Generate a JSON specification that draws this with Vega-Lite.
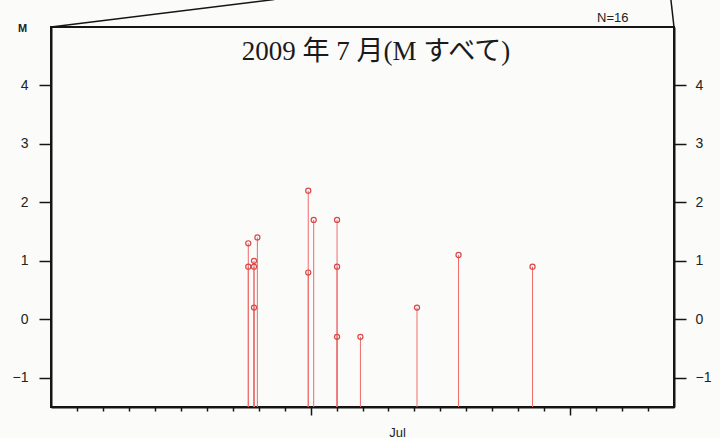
{
  "$schema": "https://vega.github.io/schema/vega-lite/v6.json",
  "width": 623,
  "height": 380,
  "autosize": "none",
  "padding": {"left": 51, "top": 27, "right": 46, "bottom": 31},
  "background": "#fbfbf9",
  "config": {
    "view": {"stroke": "#151515", "strokeWidth": 2},
    "axis": {
      "domainColor": "#151515",
      "domainWidth": 2,
      "tickColor": "#151515",
      "tickWidth": 1.5,
      "grid": false,
      "labelFont": "Liberation Sans",
      "labelColor": "#222222",
      "titleFont": "Liberation Sans",
      "titleColor": "#222222"
    }
  },
  "datasets": {
    "events": [
      {"day": 7.60, "M": 1.3},
      {"day": 7.60, "M": 0.9},
      {"day": 7.82, "M": 1.0},
      {"day": 7.82, "M": 0.9},
      {"day": 7.82, "M": 0.2},
      {"day": 7.95, "M": 1.4},
      {"day": 9.91, "M": 2.2},
      {"day": 9.91, "M": 0.8},
      {"day": 10.12, "M": 1.7},
      {"day": 11.02, "M": 1.7},
      {"day": 11.02, "M": 0.9},
      {"day": 11.02, "M": -0.3},
      {"day": 11.92, "M": -0.3},
      {"day": 14.10, "M": 0.2},
      {"day": 15.70, "M": 1.1},
      {"day": 18.55, "M": 0.9}
    ],
    "frame": [
      {"seg": "left", "day": 0, "M": 5},
      {"seg": "left", "day": 8.6, "M": 5.47},
      {"seg": "right", "day": 24, "M": 5},
      {"seg": "right", "day": 23.88, "M": 5.47}
    ],
    "labels": [
      {"day": 21.64, "M": 5.15, "label": "N=16", "kind": "count"},
      {"day": 12.52, "M": 4.57, "label": "2009 年 7 月(M すべて)", "kind": "title"}
    ]
  },
  "encoding": {
    "x": {
      "field": "day",
      "type": "quantitative",
      "scale": {"domain": [0, 24], "nice": false, "zero": false},
      "axis": {
        "values": [1,2,3,4,5,6,7,8,9,10,11,12,13,14,15,16,17,18,19,20,21,22,23],
        "labels": false,
        "tickSize": {"condition": {"test": "datum.value === 10 || datum.value === 20", "value": 8}, "value": 4},
        "title": "Jul",
        "titleFontSize": 13,
        "titleFontWeight": "normal",
        "titleBaseline": "middle",
        "titleX": 346,
        "titleY": 25
      }
    }
  },
  "layer": [
    {
      "data": {"name": "events"},
      "mark": {"type": "rule", "color": "#ee6a6a", "strokeWidth": 1},
      "encoding": {
        "y": {
          "field": "M",
          "type": "quantitative",
          "scale": {"domain": [-1.5, 5], "nice": false, "zero": false},
          "axis": {
            "orient": "left",
            "values": [-1, 0, 1, 2, 3, 4],
            "tickSize": 12,
            "labelPadding": 11,
            "labelFontSize": 14,
            "title": "M",
            "titleAngle": 0,
            "titleAlign": "center",
            "titleBaseline": "middle",
            "titleFontSize": 11,
            "titleFontWeight": "bold",
            "titleX": -29,
            "titleY": 1
          }
        },
        "y2": {"datum": -1.5}
      }
    },
    {
      "data": {"name": "events"},
      "mark": {"type": "point", "shape": "circle", "filled": false, "color": "#d84848", "strokeWidth": 1.2, "size": 26, "opacity": 1},
      "encoding": {
        "y": {
          "field": "M",
          "type": "quantitative",
          "scale": {"domain": [-1.5, 5], "nice": false, "zero": false},
          "axis": {
            "orient": "right",
            "values": [-1, 0, 1, 2, 3, 4],
            "tickSize": 12,
            "labelPadding": 9,
            "labelFontSize": 14,
            "title": null
          }
        }
      }
    },
    {
      "data": {"name": "frame"},
      "mark": {"type": "line", "color": "#151515", "strokeWidth": 1.5},
      "encoding": {
        "y": {
          "field": "M",
          "type": "quantitative",
          "scale": {"domain": [-1.5, 5], "nice": false, "zero": false},
          "axis": null
        },
        "detail": {"field": "seg"}
      }
    },
    {
      "data": {"name": "labels"},
      "transform": [{"filter": "datum.kind === 'count'"}],
      "mark": {"type": "text", "font": "Liberation Sans", "fontSize": 13, "color": "#222222", "baseline": "middle", "align": "center"},
      "encoding": {
        "y": {
          "field": "M",
          "type": "quantitative",
          "scale": {"domain": [-1.5, 5], "nice": false, "zero": false},
          "axis": null
        },
        "text": {"field": "label"}
      }
    },
    {
      "data": {"name": "labels"},
      "transform": [{"filter": "datum.kind === 'title'"}],
      "mark": {"type": "text", "font": "Liberation Serif, Noto Sans CJK JP", "fontSize": 27, "color": "#1a1a1a", "baseline": "middle", "align": "center"},
      "encoding": {
        "y": {
          "field": "M",
          "type": "quantitative",
          "scale": {"domain": [-1.5, 5], "nice": false, "zero": false},
          "axis": null
        },
        "text": {"field": "label"}
      }
    }
  ],
  "resolve": {"scale": {"y": "independent"}, "axis": {"y": "independent"}}
}
